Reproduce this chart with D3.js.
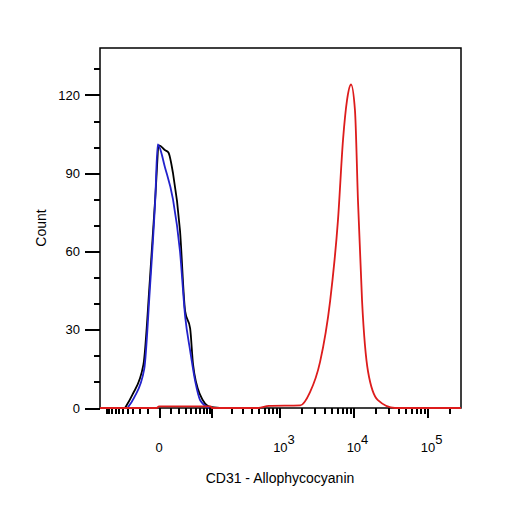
<!DOCTYPE html>
<html>
<head>
<meta charset="utf-8">
<script src="https://cdn.jsdelivr.net/npm/d3@7"></script>
<style>
  body { margin: 0; background: #fff; }
  text { font-family: "Liberation Sans", Arial, sans-serif; }
</style>
</head>
<body>
<script>
// channel values (APC) and counts
const blackX = [-45, -31, -15, -8, -3, 0, 5, 8, 13, 22, 30, 39, 45, 62, 93, 134];
const blackY = [0, 5, 16.6, 48.6, 80.6, 100.7, 98.8, 98, 90, 68, 37, 30.5, 16.6, 5, 0.4, 0];

const blueX = [-40, -28, -14, -8, -3, -1, 5, 13, 22, 30, 39, 50, 62, 90];
const blueY = [0, 4, 15, 45, 80, 101, 92, 80, 60, 35, 22, 10, 3, 0];

const redX = [-126, -2, 0, 95, 100, 500, 700, 1900, 2570, 3530, 4830, 6170, 7230, 8180, 9270, 10480, 11500, 13060, 15720, 21360, 36300, 282000];
const redY = [0, 0, 0.6, 0.6, 0, 0, 0.8, 1, 6, 17.7, 41, 72, 103, 118, 124, 114, 79.5, 41, 14, 3, 0, 0];

const yTicks = [0, 30, 60, 90, 120];
const xTicks = [0, 1e3, 1e4, 1e5];
const xTickLabels = ["0", "10|3", "10|4", "10|5"];

const W = 506, H = 506;
const m = { left: 100, right: 461, top: 48, bottom: 408 };

const svg = d3.select('body').append('svg').attr('width', W).attr('height', H);

const x = d3.scaleSymlog().constant(24).domain([-126, 282000]).range([m.left, m.right]);
const y = d3.scaleLinear().domain([0, 138]).range([m.bottom, m.top]);

// minor x ticks
const minor = [];
for (let v = -100; v <= -10; v += 10) minor.push(v);
for (let v = 10; v <= 100; v += 10) minor.push(v);
[100, 1000, 10000, 100000].forEach(d => { for (let k = 2; k <= 9; k++) if (d * k < 282000) minor.push(d * k); });

const xg = svg.append('g').attr('transform', `translate(0,${m.bottom})`);
xg.append('g').call(d3.axisBottom(x).tickValues(minor).tickSize(6).tickFormat(''));
xg.append('g').call(d3.axisBottom(x).tickValues(xTicks.concat([100])).tickSize(10).tickFormat(''));
xg.selectAll('.domain').remove();
xg.selectAll('line').attr('stroke', '#000').attr('stroke-width', 2).attr('shape-rendering', 'crispEdges');

const xl = svg.append('g');
xTicks.forEach((v, i) => {
  const [base, sup] = xTickLabels[i].split('|');
  const t = xl.append('text').attr('x', x(v) + (sup ? 4 : 0)).attr('y', 452)
    .attr('text-anchor', 'middle').attr('font-size', 13).text(base);
  if (sup) t.append('tspan').attr('dy', -8).attr('font-size', 13).text(sup);
});

// y axis
const yg = svg.append('g').attr('transform', `translate(${m.left},0)`);
yg.append('g').call(d3.axisLeft(y).tickValues(d3.range(10, 140, 10).filter(v => v % 30)).tickSize(6).tickFormat(''));
yg.append('g').call(d3.axisLeft(y).tickValues(yTicks).tickSize(15).tickPadding(5).tickFormat(d3.format('d')));
yg.selectAll('.domain').remove();
yg.selectAll('line').attr('stroke', '#000').attr('stroke-width', 2).attr('shape-rendering', 'crispEdges');
yg.selectAll('text').attr('font-size', 13).attr('font-family', 'Liberation Sans, Arial, sans-serif').attr('fill', '#000');

// frame
svg.append('rect').attr('x', m.left).attr('y', m.top)
  .attr('width', m.right - m.left).attr('height', m.bottom - m.top)
  .attr('fill', 'none').attr('stroke', '#000').attr('stroke-width', 1.5);

const line = d3.line().x(d => x(d[0])).y(d => y(d[1])).curve(d3.curveMonotoneX);
const series = [
  { xs: blackX, ys: blackY, c: '#000' },
  { xs: blueX, ys: blueY, c: '#2222cc' },
  { xs: redX, ys: redY, c: '#dd1c1c' }
];
series.forEach(s => {
  svg.append('path').datum(d3.zip(s.xs, s.ys))
    .attr('d', line).attr('fill', 'none').attr('stroke', s.c).attr('stroke-width', 1.8);
});

svg.append('text').attr('x', 280).attr('y', 483).attr('text-anchor', 'middle')
  .attr('font-size', 14).text('CD31 - Allophycocyanin');
svg.append('text').attr('transform', 'translate(46,228) rotate(-90)')
  .attr('text-anchor', 'middle').attr('font-size', 14).text('Count');
</script>
</body>
</html>
